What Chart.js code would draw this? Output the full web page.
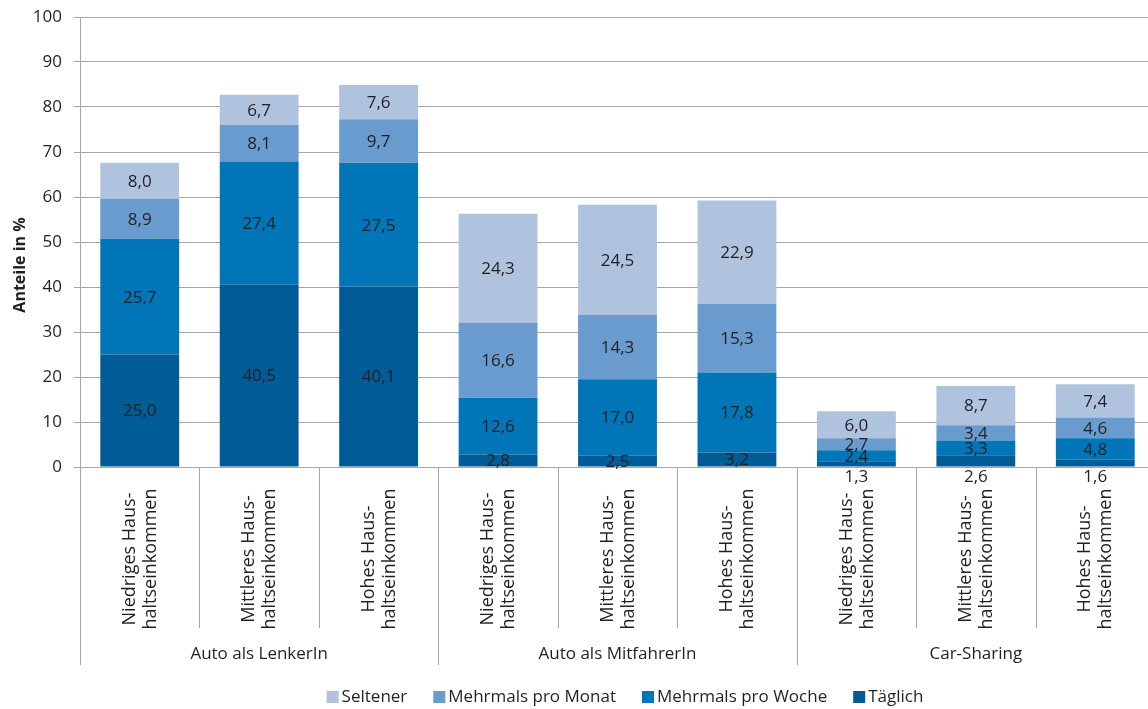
<!DOCTYPE html>
<html lang="de">
<head>
<meta charset="utf-8">
<title>Pkw-Nutzung nach Haushaltseinkommen</title>
<script src="https://cdn.jsdelivr.net/npm/chart.js@4.4.1/dist/chart.umd.min.js"></script>
<style>
  html, body { margin: 0; padding: 0; background: #fff; overflow: hidden; }
  #chart { display: block; }
</style>
</head>
<body>
<!-- the original plot runs a few pixels past the right edge of the picture -->
<canvas id="chart" width="1155" height="709"></canvas>
<script>
// === Data (shares in %) ===
const groups = ['Auto als LenkerIn', 'Auto als MitfahrerIn', 'Car-Sharing'];
const incomeLabels = [
  ['Niedriges Haus-', 'haltseinkommen'],
  ['Mittleres Haus-', 'haltseinkommen'],
  ['Hohes Haus-', 'haltseinkommen']
];
const categories = groups.flatMap(g => incomeLabels.map(l => g + ' – ' + l.join('')));

const taeglich      = [25.0, 40.5, 40.1,  2.8,  2.5,  3.2, 1.3, 2.6, 1.6];
const proWoche      = [25.7, 27.4, 27.5, 12.6, 17.0, 17.8, 2.4, 3.3, 4.8];
const proMonat      = [ 8.9,  8.1,  9.7, 16.6, 14.3, 15.3, 2.7, 3.4, 4.6];
const seltener      = [ 8.0,  6.7,  7.6, 24.3, 24.5, 22.9, 6.0, 8.7, 7.4];

const yMin = 0, yMax = 100, yStep = 10;

// === Look ===
const FONT = "'Open Sans', 'DejaVu Sans', sans-serif";
const TEXT = '#231f20';
const LINE = '#a6a6a6';
const colors = {
  taeglich: '#005c97',
  woche: '#0075b8',
  monat: '#699bcf',
  seltener: '#afc3df'
};
// Täglich labels of the Car-Sharing bars sit below the axis in the original
const labelBelowAxis = [6, 7, 8];

const fmt = v => v.toFixed(1).replace('.', ',');

const decorations = {
  id: 'decorations',
  afterDatasetsDraw(chart) {
    const ctx = chart.ctx;
    ctx.save();
    ctx.font = '17px ' + FONT;
    ctx.fillStyle = TEXT;
    ctx.textAlign = 'center';
    ctx.textBaseline = 'middle';
    chart.data.datasets.forEach((ds, di) => {
      const meta = chart.getDatasetMeta(di);
      meta.data.forEach((bar, i) => {
        let yPos = (bar.y + bar.base) / 2;
        if (di === 0 && labelBelowAxis.includes(i)) yPos = bar.base + 10;
        ctx.fillText(fmt(ds.data[i]), bar.x, yPos + 1);
      });
    });
    ctx.restore();
  },
  afterDraw(chart) {
    const ctx = chart.ctx;
    const xs = chart.scales.x;
    const area = chart.chartArea;
    const w = xs.getPixelForValue(1) - xs.getPixelForValue(0);
    ctx.save();

    // separators under the axis
    ctx.strokeStyle = LINE;
    ctx.lineWidth = 1;
    for (let i = 0; i <= categories.length; i++) {
      const px = Math.round(xs.getPixelForValue(i) - w / 2) + 0.5;
      const end = i % 3 === 0 ? area.bottom + 198 : area.bottom + 161;
      ctx.beginPath();
      ctx.moveTo(px, area.bottom);
      ctx.lineTo(px, end);
      ctx.stroke();
    }

    // rotated category labels
    ctx.fillStyle = TEXT;
    ctx.font = '18px ' + FONT;
    ctx.textAlign = 'center';
    ctx.textBaseline = 'middle';
    categories.forEach((c, i) => {
      const lines = incomeLabels[i % 3];
      const cx = xs.getPixelForValue(i);
      ctx.save();
      ctx.translate(cx, area.bottom + 92);
      ctx.rotate(-Math.PI / 2);
      ctx.fillText(lines[0], 0, -10);
      ctx.fillText(lines[1], 0, 11);
      ctx.restore();
    });

    // group labels
    ctx.font = '17px ' + FONT;
    groups.forEach((g, gi) => {
      const cx = (xs.getPixelForValue(gi * 3) + xs.getPixelForValue(gi * 3 + 2)) / 2;
      ctx.fillText(g, cx, area.bottom + 187);
    });

    // y axis title
    ctx.save();
    ctx.font = 'bold 16px ' + FONT;
    ctx.translate(20, 265);
    ctx.rotate(-Math.PI / 2);
    ctx.fillText('Anteile in %', 0, 0);
    ctx.restore();

    // legend (reversed order, as in the original)
    ctx.font = '17px ' + FONT;
    ctx.textAlign = 'left';
    const items = chart.data.datasets.slice().reverse();
    const box = 12, boxGap = 3, itemGap = 26;
    const widths = items.map(d => box + boxGap + ctx.measureText(d.label).width);
    const total = widths.reduce((a, b) => a + b, 0) + itemGap * (items.length - 1);
    let lx = 625 - total / 2;
    const ly = 697;
    items.forEach((d, k) => {
      ctx.fillStyle = d.backgroundColor;
      ctx.fillRect(lx, ly - box / 2, box, box);
      ctx.fillStyle = TEXT;
      ctx.fillText(d.label, lx + box + boxGap, ly);
      lx += widths[k] + itemGap;
    });
    ctx.restore();
  }
};

new Chart(document.getElementById('chart'), {
  type: 'bar',
  data: {
    labels: categories,
    datasets: [
      { label: 'Täglich', data: taeglich, backgroundColor: colors.taeglich },
      { label: 'Mehrmals pro Woche', data: proWoche, backgroundColor: colors.woche },
      { label: 'Mehrmals pro Monat', data: proMonat, backgroundColor: colors.monat },
      { label: 'Seltener', data: seltener, backgroundColor: colors.seltener }
    ]
  },
  options: {
    responsive: false,
    devicePixelRatio: 1,
    animation: false,
    layout: { padding: { left: 0, top: 17, right: 0, bottom: 42 } },
    datasets: {
      bar: { barPercentage: 0.66, categoryPercentage: 1, borderWidth: 0 }
    },
    plugins: {
      legend: { display: false },
      tooltip: { enabled: false }
    },
    scales: {
      x: {
        stacked: true,
        grid: { display: false },
        border: { display: false },
        ticks: { display: false },
        afterFit(scale) { scale.height = 200; }
      },
      y: {
        stacked: true,
        min: yMin,
        max: yMax,
        ticks: {
          stepSize: yStep,
          padding: 12,
          color: TEXT,
          font: { family: FONT, size: 17 }
        },
        grid: { color: LINE, lineWidth: 1, tickLength: 6 },
        border: { color: LINE },
        afterFit(scale) {
          scale.width = 80;
          scale.paddingTop = 0;
          scale.paddingBottom = 0;
        }
      }
    }
  },
  plugins: [decorations]
});
</script>
</body>
</html>
